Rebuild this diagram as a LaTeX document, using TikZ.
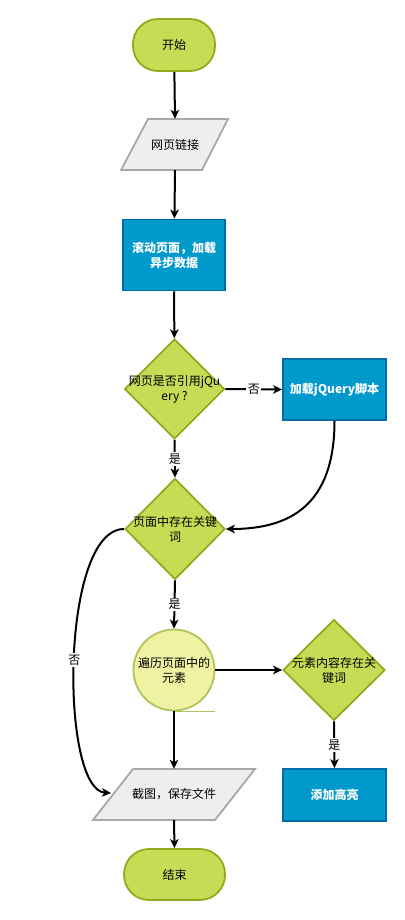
\documentclass[tikz,border=0pt]{standalone}
\usepackage{fontspec}
\setmainfont{Noto Sans CJK SC}
\usetikzlibrary{arrows.meta,shapes.geometric}
\definecolor{gfill}{HTML}{C6DC55}
\definecolor{gline}{HTML}{8FAC1E}
\definecolor{bfill}{HTML}{0099CC}
\definecolor{bline}{HTML}{006EA6}
\definecolor{pfill}{HTML}{EEEEEE}
\definecolor{pline}{HTML}{A8A8A8}
\definecolor{cfill}{HTML}{EEF2A2}
\definecolor{cline}{HTML}{B4C25A}
\begin{document}
\begin{tikzpicture}[x=1pt,y=-1pt,
 every node/.style={font=\fontsize{12}{15}\selectfont, align=center, inner sep=0pt},
 term/.style={draw=gline, fill=gfill, line width=1.8pt, rounded corners=25pt},
 bbox/.style={draw=bline, fill=bfill, line width=1.8pt, text=white, font=\fontsize{12}{15}\selectfont\bfseries},
 dia/.style={diamond, draw=gline, fill=gfill, line width=1.8pt},
 para/.style={draw=pline, fill=pfill, line width=1.8pt},
 seq/.style={circle, draw=cline, fill=cfill, line width=1.8pt, minimum size=81pt},
 conn/.style={line width=2pt, -{Stealth[length=9pt,width=8.5pt,inset=2.5pt]}},
 lbl/.style={fill=white, inner sep=1.5pt}
]
\useasboundingbox (0,0) rectangle (404,920);

% start
\node[term, minimum width=82pt, minimum height=52pt] (start) at (174,45) {开始};

% link parallelogram
\path[para] (148,119) -- (228,119) -- (202,170) -- (121,170) -- cycle;
\node[minimum width=80pt, minimum height=51pt] (link) at (175,144.5) {网页链接};

% scroll box
\node[bbox, minimum width=102pt, minimum height=71pt] (scroll) at (174,255) {滚动页面，加载\\异步数据};

% diamond 1
\node[dia, minimum width=100pt, minimum height=100pt] (q1) at (174.5,389) {};
\node (q1t) at (q1) {网页是否引用jQu\\ery ?};

% load jQuery
\node[bbox, minimum width=103pt, minimum height=61pt] (loadjq) at (334.5,389.5) {加载jQuery脚本};

% diamond 2
\node[dia, minimum width=100pt, minimum height=101pt] (q2) at (175,529) {};
\node (q2t) at (q2) {页面中存在关键\\词};

% sequential data circle
\node[seq] (iter) at (174,670) {遍历页面中的\\元素};
\draw[cline, line width=1.8pt] (iter.south) -- ++(41,0);

% diamond 3
\node[dia, minimum width=102pt, minimum height=101pt] (q3) at (334,670) {};
\node (q3t) at (q3) {元素内容存在关\\键词};

% highlight
\node[bbox, minimum width=103pt, minimum height=52pt] (hl) at (334.5,795) {添加高亮};

% save parallelogram
\path[para] (133,769) -- (255,769) -- (215,820) -- (93,820) -- cycle;
\node[minimum width=122pt, minimum height=51pt] (save) at (174,794.5) {截图，保存文件};
\coordinate (saveL) at (111,793);

% end
\node[term, minimum width=101pt, minimum height=51pt] (end) at (174.5,874.5) {结束};

% connectors
\draw[conn] (start) -- (link.north);
\draw[conn] (link.south) -- (scroll);
\draw[conn] (scroll) -- (q1);
\draw[conn] (q1.east) -- (loadjq.west) node[lbl, midway] {否};
\draw[conn] (q1.south) -- (q2.north) node[lbl, midway] {是};
\draw[conn] (loadjq.south) .. controls (334.5,505) and (290,529) .. (q2.east);
\draw[conn] (q2.south) -- (iter.north) node[lbl, midway] {是};
\draw[conn] (q2.west) .. controls (60,529) and (60,790) .. (saveL) node[lbl, pos=0.5] {否};
\draw[conn] (iter.east) -- (q3.west);
\draw[conn] (q3.south) -- (hl.north) node[lbl, midway] {是};
\draw[conn] (iter.south) -- (save.north);
\draw[conn] (save.south) -- (end.north);
\end{tikzpicture}
\end{document}
